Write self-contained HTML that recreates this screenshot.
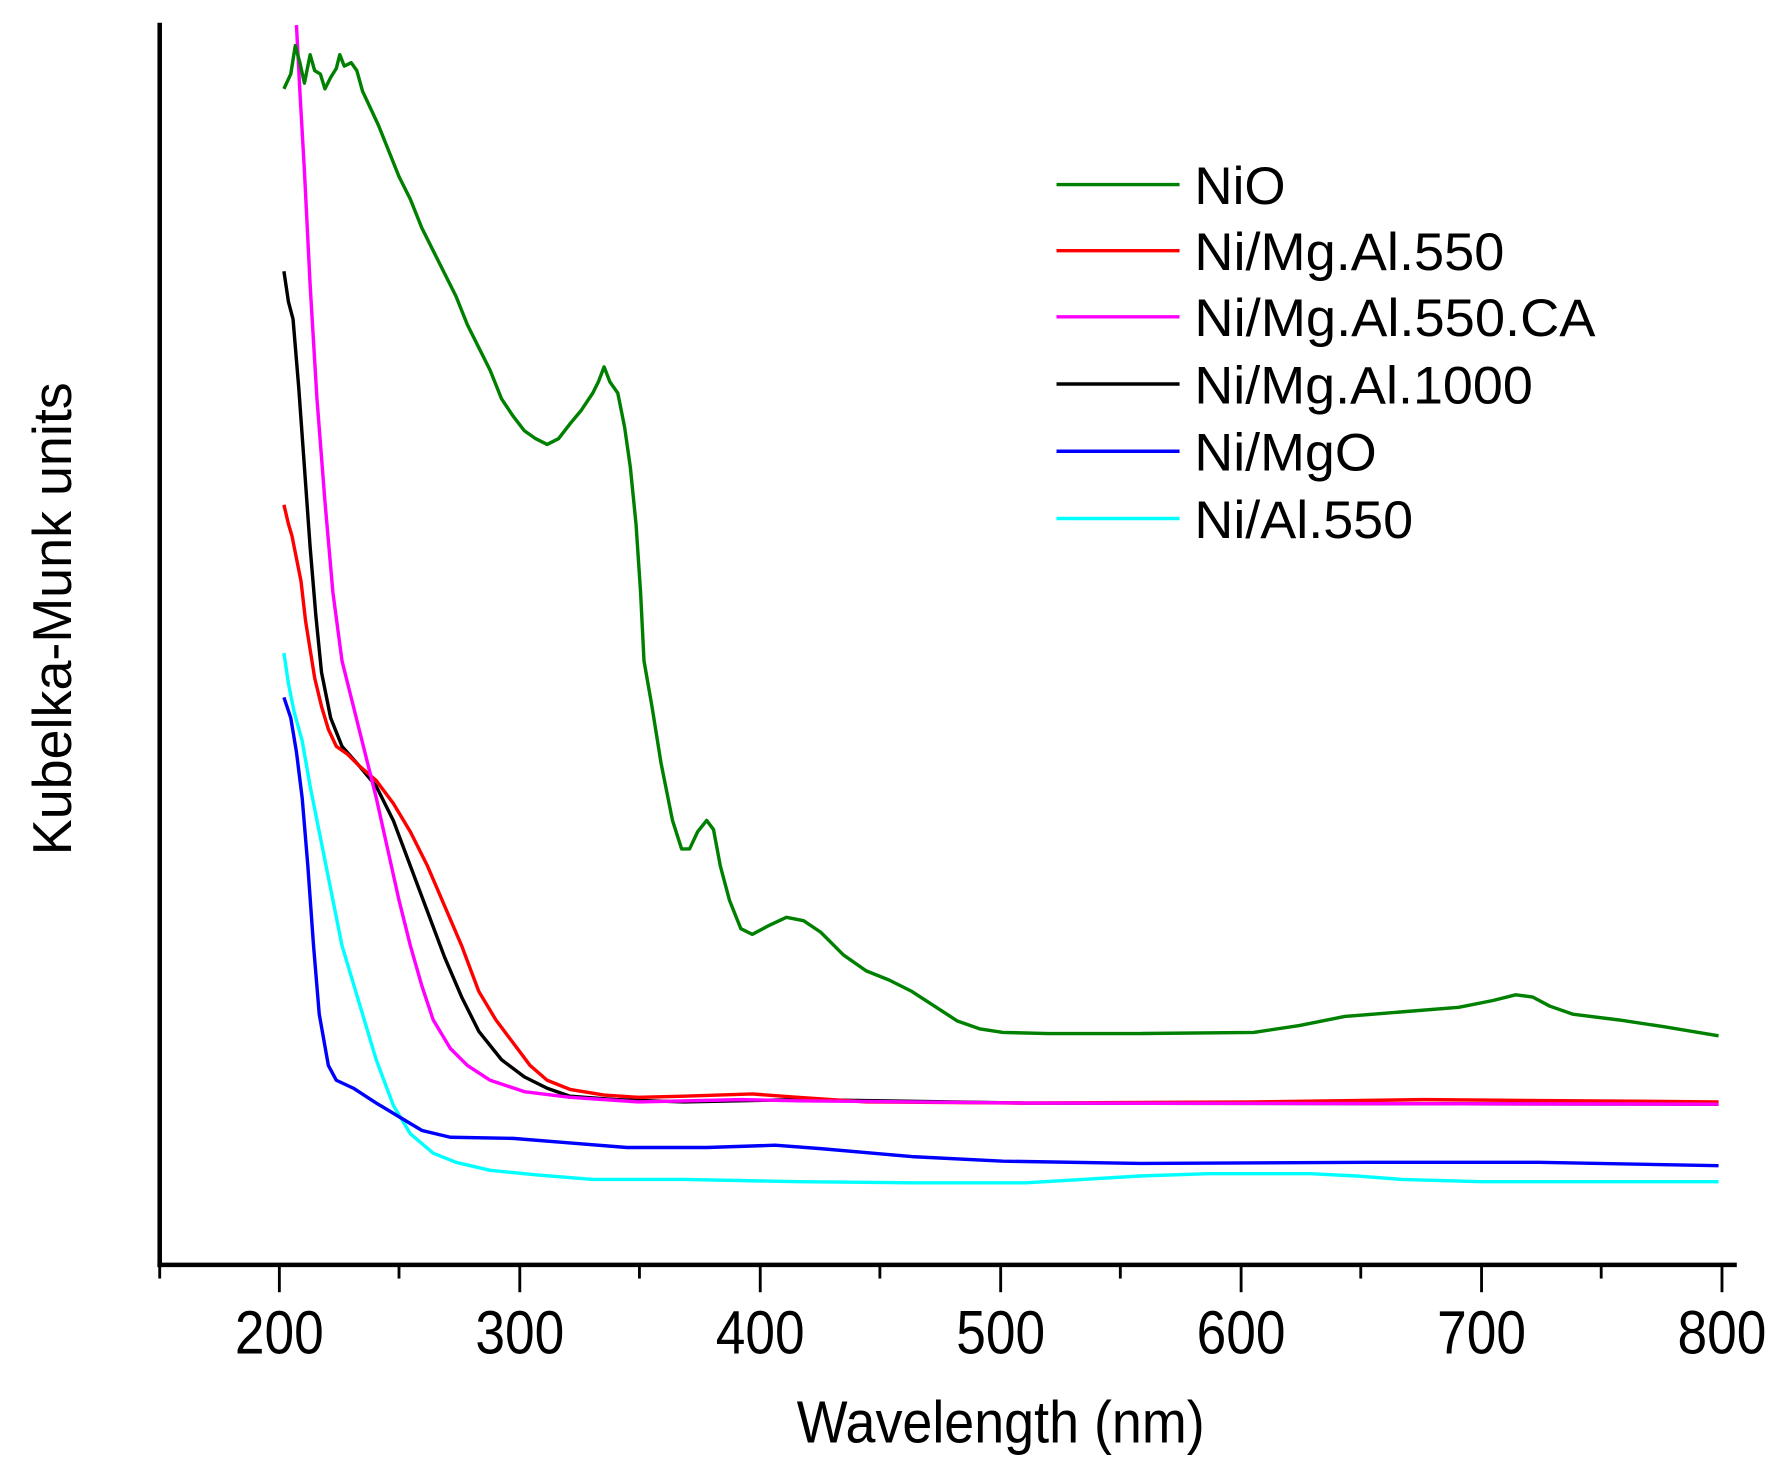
<!DOCTYPE html>
<html><head><style>html,body{margin:0;padding:0;background:#fff}</style></head>
<body>
<svg width="1778" height="1462" viewBox="0 0 1560 1283" xmlns="http://www.w3.org/2000/svg" style="display:block">
<rect width="1560" height="1283" fill="#fff"/>
<g font-family="Liberation Sans, sans-serif" fill="#000">
<g stroke="#000" stroke-width="4" fill="none">
<line x1="140" y1="20" x2="140" y2="1112"/>
<line x1="138" y1="1110" x2="1524" y2="1110"/>
</g>
<g stroke="#000" stroke-width="2.5">
<line x1="140" y1="1110" x2="140" y2="1122"/>
<line x1="245" y1="1110" x2="245" y2="1134"/>
<line x1="350" y1="1110" x2="350" y2="1122"/>
<line x1="456" y1="1110" x2="456" y2="1134"/>
<line x1="561" y1="1110" x2="561" y2="1122"/>
<line x1="667" y1="1110" x2="667" y2="1134"/>
<line x1="772" y1="1110" x2="772" y2="1122"/>
<line x1="878" y1="1110" x2="878" y2="1134"/>
<line x1="983" y1="1110" x2="983" y2="1122"/>
<line x1="1089" y1="1110" x2="1089" y2="1134"/>
<line x1="1194" y1="1110" x2="1194" y2="1122"/>
<line x1="1300" y1="1110" x2="1300" y2="1134"/>
<line x1="1405" y1="1110" x2="1405" y2="1122"/>
<line x1="1511" y1="1110" x2="1511" y2="1134"/>
</g>
<g font-size="54" text-anchor="middle" lengthAdjust="spacingAndGlyphs">
<text x="245" y="1188" textLength="78" lengthAdjust="spacingAndGlyphs">200</text>
<text x="456" y="1188" textLength="78" lengthAdjust="spacingAndGlyphs">300</text>
<text x="667" y="1188" textLength="78" lengthAdjust="spacingAndGlyphs">400</text>
<text x="878" y="1188" textLength="78" lengthAdjust="spacingAndGlyphs">500</text>
<text x="1089" y="1188" textLength="78" lengthAdjust="spacingAndGlyphs">600</text>
<text x="1300" y="1188" textLength="78" lengthAdjust="spacingAndGlyphs">700</text>
<text x="1511" y="1188" textLength="78" lengthAdjust="spacingAndGlyphs">800</text>
</g>
<text x="878" y="1266" font-size="52" text-anchor="middle" textLength="358" lengthAdjust="spacingAndGlyphs">Wavelength (nm)</text>
<text transform="translate(62,543) rotate(-90)" font-size="48" text-anchor="middle" textLength="415" lengthAdjust="spacingAndGlyphs">Kubelka-Munk units</text>
<g font-size="46">
<text x="1048" y="179" textLength="80" lengthAdjust="spacingAndGlyphs">NiO</text>
<text x="1048" y="237" textLength="272" lengthAdjust="spacingAndGlyphs">Ni/Mg.Al.550</text>
<text x="1048" y="295" textLength="352" lengthAdjust="spacingAndGlyphs">Ni/Mg.Al.550.CA</text>
<text x="1048" y="354" textLength="297" lengthAdjust="spacingAndGlyphs">Ni/Mg.Al.1000</text>
<text x="1048" y="413" textLength="160" lengthAdjust="spacingAndGlyphs">Ni/MgO</text>
<text x="1048" y="472" textLength="192" lengthAdjust="spacingAndGlyphs">Ni/Al.550</text>
</g>
</g>
<g stroke-width="3" fill="none" stroke-linejoin="round">
<line x1="927" y1="162" x2="1035" y2="162" stroke="#008000"/>
<line x1="927" y1="220" x2="1035" y2="220" stroke="#ff0000"/>
<line x1="927" y1="278" x2="1035" y2="278" stroke="#ff00ff"/>
<line x1="927" y1="337" x2="1035" y2="337" stroke="#000"/>
<line x1="927" y1="396" x2="1035" y2="396" stroke="#0000ff"/>
<line x1="927" y1="455" x2="1035" y2="455" stroke="#00ffff"/>
<polyline stroke="#00ffff" points="249,573 253,600 258,625 265,650 272,690 280,730 290,780 300,830 315,880 330,930 345,970 360,995 380,1012 400,1020 430,1027 470,1031 520,1035 600,1035 700,1037 800,1038 900,1038 950,1035 1000,1032 1060,1030 1150,1030 1190,1032 1230,1035 1300,1037 1508,1037"/>
<polyline stroke="#0000ff" points="249,612 255,630 260,660 265,700 270,760 275,830 280,890 288,935 295,948 310,955 330,968 350,980 370,992 395,998 450,999 500,1003 550,1007 620,1007 680,1005 720,1008 800,1015 880,1019 1000,1021 1200,1020 1350,1020 1508,1023"/>
<polyline stroke="#000" points="249,238 253,265 257,280 262,340 267,410 272,480 277,540 282,590 290,630 300,655 315,672 330,690 345,720 360,760 375,800 390,840 405,875 420,905 440,930 460,945 480,955 500,962 540,965 600,967 700,965 900,968 1508,969"/>
<polyline stroke="#ff0000" points="249,443 253,460 256,470 260,490 264,510 268,545 272,570 276,595 282,620 288,640 295,655 305,662 315,672 330,685 345,705 360,730 375,760 390,795 405,830 420,870 435,895 450,915 465,935 480,948 500,956 530,961 560,963 600,962 660,960 700,963 760,967 900,968 1100,967 1250,965 1508,967"/>
<polyline stroke="#ff00ff" points="260,22 263,80 267,150 272,250 278,350 285,440 292,520 300,580 310,620 320,660 330,700 340,745 350,790 360,830 370,865 380,895 395,920 410,935 430,948 460,958 500,963 560,967 650,965 700,966 900,968 1508,969"/>
<polyline stroke="#008000" points="249,78 255,65 259,40 263,55 267,73 272,48 276,62 281,65 285,78 290,68 295,60 298,48 302,58 308,55 313,62 318,80 325,95 332,110 340,130 350,155 360,175 370,200 380,220 390,240 400,260 410,285 420,305 430,325 440,350 450,365 460,378 470,385 480,390 490,385 500,372 510,360 520,345 525,335 530,322 535,335 542,345 548,375 553,410 558,460 562,520 565,580 572,620 580,670 590,720 598,745 605,745 612,730 620,720 626,728 632,760 640,790 650,815 660,820 675,812 690,805 705,808 720,818 740,838 760,852 780,860 800,870 820,883 840,896 860,903 880,906 920,907 1000,907 1100,906 1140,900 1180,892 1230,888 1280,884 1310,878 1330,873 1345,875 1360,883 1380,890 1420,895 1460,901 1508,909"/>
</g>
</svg>
</body></html>
